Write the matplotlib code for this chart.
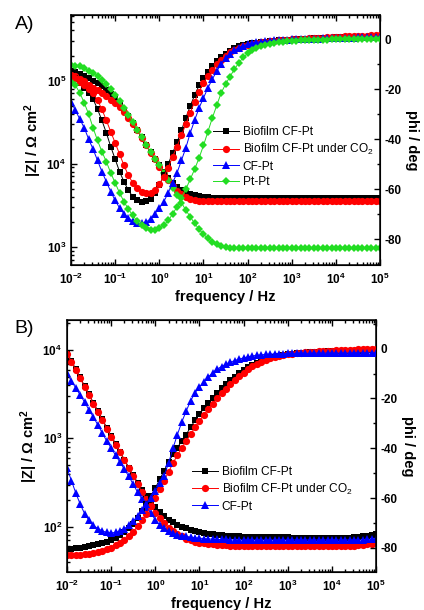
import numpy as np
import matplotlib
matplotlib.use("Agg")
import matplotlib.pyplot as plt
from matplotlib.ticker import LogLocator, NullFormatter, MultipleLocator

plt.rcParams['font.family'] = ['Liberation Sans', 'DejaVu Sans']
plt.rcParams['mathtext.fontset'] = 'custom'
plt.rcParams['mathtext.rm'] = 'Liberation Sans'
plt.rcParams['mathtext.bf'] = 'Liberation Sans:bold'
plt.rcParams['mathtext.it'] = 'Liberation Sans:italic'

# measurement frequencies, 10 points per decade, 10 mHz .. 100 kHz
freq = np.logspace(-2, 5, 71)

# ---------------- panel A : log10 |Z| (Ohm cm2) ----------------
a_zlog_bio = [5.11, 5.10, 5.08, 5.06, 5.03, 5.00, 4.97, 4.93, 4.89, 4.84,
              4.78, 4.71, 4.64, 4.57, 4.49, 4.41, 4.32, 4.23, 4.14, 4.06,
              3.98, 3.90, 3.83, 3.77, 3.72, 3.68, 3.65, 3.63, 3.62, 3.61,
              3.60, 3.60, 3.59, 3.59, 3.59, 3.59, 3.59, 3.59, 3.59, 3.59,
              3.59, 3.59, 3.59, 3.59, 3.59, 3.59, 3.59, 3.59, 3.59, 3.59,
              3.59, 3.59, 3.59, 3.59, 3.59, 3.59, 3.59, 3.59, 3.59, 3.59,
              3.59, 3.59, 3.59, 3.59, 3.59, 3.59, 3.59, 3.59, 3.59, 3.59,
              3.59]
a_zlog_co2 = [5.07, 5.05, 5.02, 4.99, 4.95, 4.91, 4.88, 4.85, 4.81, 4.77,
              4.73, 4.68, 4.62, 4.55, 4.48, 4.40, 4.31, 4.22, 4.13, 4.05,
              3.96, 3.88, 3.80, 3.73, 3.67, 3.63, 3.60, 3.58, 3.565, 3.555,
              3.55, 3.55, 3.55, 3.55, 3.55, 3.55, 3.55, 3.55, 3.55, 3.55,
              3.55, 3.55, 3.55, 3.55, 3.55, 3.55, 3.55, 3.55, 3.55, 3.55,
              3.55, 3.55, 3.55, 3.55, 3.55, 3.55, 3.55, 3.55, 3.55, 3.55,
              3.55, 3.55, 3.55, 3.55, 3.55, 3.55, 3.55, 3.55, 3.55, 3.55,
              3.55]
a_zlog_ptpt = [5.19, 5.18, 5.17, 5.15, 5.12, 5.09, 5.05, 5.01, 4.96, 4.90,
               4.83, 4.75, 4.67, 4.59, 4.50, 4.41, 4.32, 4.23, 4.14, 4.06,
               3.98, 3.89, 3.80, 3.71, 3.62, 3.53, 3.44, 3.36, 3.28, 3.21,
               3.15, 3.10, 3.06, 3.03, 3.01, 3.00, 2.99, 2.99, 2.98, 2.98,
               2.98, 2.98, 2.98, 2.98, 2.98, 2.98, 2.98, 2.98, 2.98, 2.98,
               2.98, 2.98, 2.98, 2.98, 2.98, 2.98, 2.98, 2.98, 2.98, 2.98,
               2.98, 2.98, 2.98, 2.98, 2.98, 2.98, 2.98, 2.98, 2.98, 2.98,
               2.98]

# ---------------- panel A : phase (deg) ----------------
a_phi_bio = [-14, -15.5, -17.5, -19.5, -21.5, -24, -28, -32.5, -37.5, -43,
             -48, -53, -57, -60.5, -63, -64.5, -65, -64.8, -63.8, -61.5,
             -58.5, -54.5, -50, -45.5, -41.3, -36.5, -31.5, -26.7, -22.4, -18.5,
             -15.5, -13, -10.7, -8.8, -7.2, -5.8, -4.6, -3.6, -2.9, -2.4,
             -2.0, -1.7, -1.4, -1.2, -1.0, -0.8, -0.6, -0.5, -0.4, -0.3,
             -0.2, -0.1, 0, 0.1, 0.2, 0.3, 0.4, 0.5, 0.6, 0.6,
             0.7, 0.7, 0.8, 0.8, 0.9, 0.9, 1.0, 1.0, 1.1, 1.1,
             1.2]
a_phi_co2 = [-14.5, -15.5, -17, -18.5, -20, -21.5, -24.5, -28, -32.5, -37,
             -41.5, -46, -50.5, -54.5, -57.5, -59.5, -61, -61.7, -61.5, -60.5,
             -58, -55, -51.5, -47, -43, -38.5, -34, -29.5, -25, -21,
             -17.5, -14.8, -12.3, -10, -8.2, -6.6, -5.3, -4.2, -3.4, -2.8,
             -2.3, -1.9, -1.6, -1.3, -1.1, -0.9, -0.7, -0.5, -0.4, -0.3,
             -0.1, 0, 0.1, 0.2, 0.3, 0.4, 0.5, 0.6, 0.7, 0.8,
             0.9, 1.0, 1.1, 1.1, 1.2, 1.3, 1.4, 1.4, 1.5, 1.6,
             1.7]
a_phi_cfpt = [-25, -28.5, -32, -35.5, -40, -44, -48.5, -53, -57, -61,
              -64.5, -67.5, -69.8, -71.5, -72.8, -73.5, -73.7, -73.2, -71.8, -69.8,
              -67.5, -65, -61.5, -57.5, -53.5, -48.5, -43.5, -37.5, -32.4, -27.5,
              -23.5, -19.5, -16, -12.8, -10, -7.7, -5.8, -4.5, -3.4, -2.6,
              -2.0, -1.6, -1.3, -1.0, -0.8, -0.6, -0.5, -0.4, -0.3, -0.2,
              -0.1, 0, 0, 0.1, 0.1, 0.2, 0.2, 0.3, 0.3, 0.4,
              0.4, 0.5, 0.5, 0.6, 0.6, 0.7, 0.7, 0.8, 0.8, 0.9,
              0.9]
a_phi_ptpt = [-17, -18.5, -21.5, -25.5, -30, -35.5, -40.5, -45, -49, -53.5,
              -57.5, -61.5, -65, -68, -70.5, -72.8, -74.5, -75.7, -76.3, -76.3,
              -75.7, -74.5, -72.5, -70, -67, -63.5, -60, -56, -52, -47.5,
              -42.5, -37, -31.5, -26.5, -21.5, -18, -15, -12, -9.5, -7.3,
              -5.7, -4.5, -3.5, -2.8, -2.2, -1.8, -1.5, -1.2, -1.0, -0.8,
              -0.7, -0.6, -0.5, -0.4, -0.4, -0.3, -0.3, -0.2, -0.2, -0.1,
              -0.1, 0, 0, 0, 0, 0.1, 0.1, 0.1, 0.1, 0.2,
              0.2]

# ---------------- panel B : log10 |Z| ----------------
b_zlog_bio = [3.97, 3.88, 3.78, 3.69, 3.59, 3.50, 3.40, 3.31, 3.22, 3.12,
              3.03, 2.94, 2.85, 2.76, 2.67, 2.58, 2.50, 2.42, 2.35, 2.28,
              2.22, 2.17, 2.12, 2.08, 2.05, 2.02, 2.00, 1.98, 1.965, 1.95,
              1.94, 1.93, 1.92, 1.915, 1.91, 1.905, 1.90, 1.895, 1.89, 1.89,
              1.885, 1.885, 1.88, 1.88, 1.88, 1.88, 1.88, 1.88, 1.88, 1.88,
              1.88, 1.875, 1.875, 1.875, 1.875, 1.875, 1.875, 1.875, 1.875, 1.875,
              1.875, 1.875, 1.875, 1.875, 1.875, 1.88, 1.885, 1.89, 1.90, 1.91,
              1.92]
b_zlog_co2 = [3.96, 3.87, 3.77, 3.68, 3.58, 3.49, 3.39, 3.30, 3.21, 3.11,
              3.02, 2.93, 2.84, 2.75, 2.66, 2.57, 2.48, 2.39, 2.31, 2.23,
              2.16, 2.10, 2.04, 1.99, 1.95, 1.92, 1.89, 1.865, 1.845, 1.83,
              1.82, 1.81, 1.805, 1.80, 1.795, 1.79, 1.79, 1.785, 1.785, 1.78,
              1.78, 1.78, 1.78, 1.78, 1.78, 1.78, 1.78, 1.78, 1.78, 1.78,
              1.78, 1.78, 1.78, 1.78, 1.78, 1.78, 1.78, 1.78, 1.78, 1.78,
              1.78, 1.78, 1.78, 1.78, 1.78, 1.785, 1.79, 1.795, 1.80, 1.805,
              1.81]
b_zlog_cfpt = [3.74, 3.65, 3.57, 3.49, 3.41, 3.32, 3.24, 3.15, 3.06, 2.97,
               2.89, 2.81, 2.73, 2.65, 2.57, 2.48, 2.39, 2.31, 2.22, 2.15,
               2.08, 2.02, 1.98, 1.95, 1.93, 1.91, 1.90, 1.89, 1.88, 1.875,
               1.87, 1.865, 1.86, 1.86, 1.855, 1.855, 1.855, 1.85, 1.85, 1.85,
               1.85, 1.85, 1.85, 1.85, 1.85, 1.85, 1.85, 1.85, 1.85, 1.85,
               1.85, 1.85, 1.85, 1.85, 1.85, 1.85, 1.85, 1.85, 1.85, 1.85,
               1.85, 1.85, 1.85, 1.85, 1.85, 1.85, 1.85, 1.85, 1.855, 1.86,
               1.865]

# ---------------- panel B : phase ----------------
b_phi_bio = [-80.5, -80.4, -80.2, -80.0, -79.7, -79.4, -79.0, -78.6, -78.1, -77.5,
             -76.8, -76.0, -75.0, -73.8, -72.2, -70.3, -68.0, -65.3, -62.3, -59.0,
             -56.0, -52.5, -49.0, -45.5, -42.5, -39.8, -37.0, -34.5, -31.5, -28.8,
             -26.3, -24.0, -21.8, -19.8, -17.9, -16.0, -14.3, -12.7, -11.2, -9.8,
             -8.6, -7.5, -6.5, -5.6, -4.9, -4.3, -3.8, -3.3, -2.9, -2.6,
             -2.3, -2.1, -1.9, -1.7, -1.6, -1.5, -1.4, -1.3, -1.2, -1.1,
             -1.0, -1.0, -0.9, -0.9, -0.8, -0.8, -0.8, -0.7, -0.7, -0.7,
             -0.7]
b_phi_co2 = [-83.0, -83.0, -82.9, -82.8, -82.6, -82.4, -82.1, -81.7, -81.2, -80.6,
             -79.9, -79.0, -78.0, -76.8, -75.3, -73.5, -71.4, -69.0, -66.3, -63.3,
             -60.0, -56.5, -53.0, -49.5, -46.0, -42.8, -39.8, -37.0, -34.3, -31.6,
             -29.0, -26.6, -24.3, -22.1, -20.0, -18.0, -16.1, -14.3, -12.6, -11.0,
             -9.6, -8.3, -7.1, -6.1, -5.2, -4.5, -3.9, -3.4, -3.0, -2.6,
             -2.3, -2.0, -1.8, -1.6, -1.4, -1.3, -1.2, -1.1, -1.0, -0.9,
             -0.8, -0.7, -0.6, -0.5, -0.5, -0.4, -0.3, -0.3, -0.2, -0.2,
             -0.1]
b_phi_cfpt = [-48, -53, -58, -62.5, -66.3, -69.0, -71.0, -72.3, -73.2, -73.8,
              -74.0, -73.8, -73.2, -72.3, -71.0, -69.3, -67.3, -65.0, -62.5, -60.0,
              -57.0, -54.0, -51.0, -46.0, -40.0, -34.5, -29.5, -25.0, -21.0, -17.7,
              -15.4, -13.3, -11.4, -9.6, -8.2, -7.2, -6.2, -5.4, -4.8, -4.2,
              -3.7, -3.3, -2.9, -2.7, -2.5, -2.3, -2.2, -2.1, -2.0, -2.0,
              -1.9, -1.9, -1.9, -1.9, -1.9, -1.9, -1.8, -1.8, -1.8, -1.8,
              -1.8, -1.8, -1.8, -1.8, -1.8, -1.7, -1.7, -1.7, -1.7, -1.7,
              -1.7]

labels = ["Biofilm CF-Pt", "Biofilm CF-Pt under CO$_2$", "CF-Pt", "Pt-Pt"]
colors = ["black", "#ff0000", "#0000ff", "#22dd22"]
markers = ["s", "o", "^", "D"]
msizes = [4.8, 5.2, 5.2, 4.4]

xticks = [1e-2, 1e-1, 1e0, 1e1, 1e2, 1e3, 1e4, 1e5]
xticklabels = [r"$\mathbf{10^{-2}}$", r"$\mathbf{10^{-1}}$", r"$\mathbf{10^{0}}$",
               r"$\mathbf{10^{1}}$", r"$\mathbf{10^{2}}$", r"$\mathbf{10^{3}}$",
               r"$\mathbf{10^{4}}$", r"$\mathbf{10^{5}}$"]
phiticks = [0, -20, -40, -60, -80]


def style_axes(ax, ax2, zlim, zticks, zticklabels, philim):
    ax.set_xscale("log")
    ax.set_yscale("log")
    ax.set_xlim(1e-2, 1e5)
    ax.set_ylim(*zlim)
    ax.set_xticks(xticks, xticklabels)
    ax.xaxis.set_minor_locator(LogLocator(base=10, subs=np.arange(2, 10), numticks=100))
    ax.xaxis.set_minor_formatter(NullFormatter())
    ax.set_yticks(zticks, zticklabels)
    ax.yaxis.set_minor_locator(LogLocator(base=10, subs=np.arange(2, 10), numticks=100))
    ax.yaxis.set_minor_formatter(NullFormatter())
    ax.tick_params(which="both", direction="in", top=True, right=False, labelsize=8.5, width=1)
    ax.tick_params(which="major", length=4.5)
    ax.tick_params(which="minor", length=2.5)
    ax.tick_params(axis="x", pad=5)
    ax2.set_ylim(*philim)
    ax2.set_yticks(phiticks)
    ax2.set_yticklabels([str(t) for t in phiticks], fontweight="bold")
    ax2.yaxis.set_minor_locator(MultipleLocator(10))
    ax2.tick_params(which="both", direction="in", labelsize=8.5, width=1)
    ax2.tick_params(which="major", length=4.5)
    ax2.tick_params(which="minor", length=2.5)
    for sp in ax.spines.values():
        sp.set_linewidth(1.1)
    ax.set_xlabel("frequency / Hz", fontsize=10.5, fontweight="bold", labelpad=2)
    ax.set_ylabel(r"|Z| / $\mathbf{\Omega}$ cm$^\mathbf{2}$", fontsize=10.5, fontweight="bold", labelpad=2)
    ax2.set_ylabel("phi / deg", fontsize=10.5, fontweight="bold", rotation=270, labelpad=12)


fig = plt.figure(figsize=(4.24, 6.10), dpi=100)

# panel A
axA = fig.add_axes([0.1675, 0.5656, 0.729, 0.41])
axA2 = axA.twinx()
a_z = [a_zlog_bio, a_zlog_co2, None, a_zlog_ptpt]
a_phi = [a_phi_bio, a_phi_co2, a_phi_cfpt, a_phi_ptpt]
handles = []
for i in range(4):
    if a_z[i] is not None:
        axA.plot(freq, 10 ** np.array(a_z[i]), color=colors[i], marker=markers[i],
                 ms=msizes[i], lw=0.7, mew=0)
    h, = axA2.plot(freq, a_phi[i], color=colors[i], marker=markers[i],
                   ms=msizes[i], lw=0.7, mew=0, label=labels[i])
    handles.append(h)
style_axes(axA, axA2, (10 ** 2.78, 10 ** 5.79), [1e3, 1e4, 1e5],
           [r"$\mathbf{10^{3}}$", r"$\mathbf{10^{4}}$", r"$\mathbf{10^{5}}$"], (-90.3, 9.7))
axA2.legend(handles=handles, loc="upper left", bbox_to_anchor=(0.44, 0.58), frameon=False,
            fontsize=8.6, handlelength=2.2, handletextpad=0.3, labelspacing=0.32,
            borderpad=0, numpoints=1)
fig.text(0.035, 0.96, "A)", fontsize=14, va="center", ha="left")

# panel B
axB = fig.add_axes([0.158, 0.0623, 0.729, 0.4131])
axB2 = axB.twinx()
b_z = [b_zlog_bio, b_zlog_co2, b_zlog_cfpt]
b_phi = [b_phi_bio, b_phi_co2, b_phi_cfpt]
handles = []
for i in range(3):
    axB.plot(freq, 10 ** np.array(b_z[i]), color=colors[i], marker=markers[i],
             ms=msizes[i], lw=0.7, mew=0)
    h, = axB2.plot(freq, b_phi[i], color=colors[i], marker=markers[i],
                   ms=msizes[i], lw=0.7, mew=0, label=labels[i])
    handles.append(h)
style_axes(axB, axB2, (10 ** 1.487, 10 ** 4.34), [1e2, 1e3, 1e4],
           [r"$\mathbf{10^{2}}$", r"$\mathbf{10^{3}}$", r"$\mathbf{10^{4}}$"], (-89.7, 11.5))
axB2.legend(handles=handles, loc="upper left", bbox_to_anchor=(0.385, 0.445), frameon=False,
            fontsize=8.6, handlelength=2.2, handletextpad=0.3, labelspacing=0.32,
            borderpad=0, numpoints=1)
fig.text(0.035, 0.462, "B)", fontsize=14, va="center", ha="left")

fig.savefig("out.png", dpi=100)
